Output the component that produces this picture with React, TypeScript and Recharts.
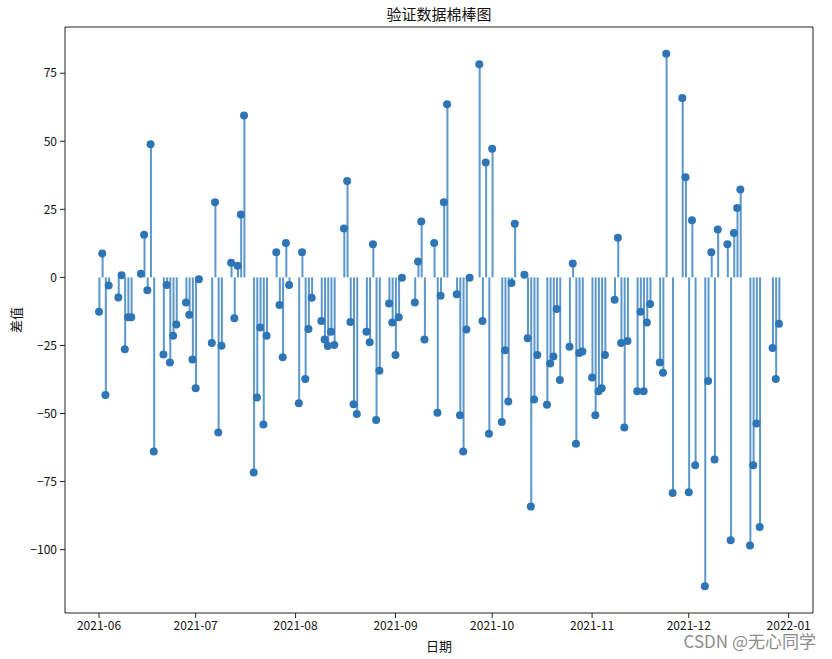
import React from "react"
import { ComposedChart, Bar, Scatter, XAxis, YAxis, ReferenceLine } from "recharts"

// trading days (day of month) and the plotted difference, month by month
const junDays = [1, 2, 3, 4, 7, 8, 9, 10, 11, 14, 15, 16, 17, 18, 21, 22, 23, 24, 25, 28, 29, 30]
const junDiff = [-12.6, 8.8, -43.2, -3.0, -7.4, 0.8, -26.4, -14.6, -14.6, 1.3, 15.7, -4.7, 48.9, -64.0, -28.3, -2.8, -31.3, -21.4, -17.3, -9.2, -13.7, -30.2]

const julDays = [1, 2, 6, 7, 8, 9, 12, 13, 14, 15, 16, 19, 20, 21, 22, 23, 26, 27, 28, 29, 30]
const julDiff = [-40.7, -0.7, -24.1, 27.6, -57.0, -25.1, 5.4, -15.0, 4.3, 23.1, 59.5, -71.7, -44.1, -18.4, -54.0, -21.4, 9.2, -10.1, -29.3, 12.6, -2.8]

const augDays = [2, 3, 4, 5, 6, 9, 10, 11, 12, 13, 16, 17, 18, 19, 20, 23, 24, 25, 26, 27, 30, 31]
const augDiff = [-46.2, 9.2, -37.3, -19.0, -7.5, -16.0, -22.8, -25.2, -20.0, -24.8, 18.0, 35.4, -16.4, -46.6, -50.2, -20.0, -23.8, 12.2, -52.4, -34.3, -9.6, -16.6]

const sepDays = [1, 2, 3, 7, 8, 9, 10, 13, 14, 15, 16, 17, 20, 21, 22, 23, 24, 27, 28, 29, 30]
const sepDiff = [-28.5, -14.6, -0.1, -9.2, 5.8, 20.5, -22.8, 12.6, -49.7, -6.7, 27.6, 63.6, -6.2, -50.6, -64.0, -19.1, -0.1, 78.3, -16.0, 42.2, -57.4]

const octDays = [1, 4, 5, 6, 7, 8, 11, 12, 13, 14, 15, 18, 19, 20, 21, 22, 25, 26, 27, 28, 29]
const octDiff = [47.3, -53.1, -26.8, -45.6, -2.1, 19.7, 1.0, -22.4, -84.2, -44.9, -28.5, -46.8, -31.6, -29.1, -11.6, -37.7, -25.5, 5.1, -61.1, -27.8, -27.2]

const novDays = [1, 2, 3, 4, 5, 8, 9, 10, 11, 12, 15, 16, 17, 18, 19, 22, 23, 24, 26, 29, 30]
const novDiff = [-36.8, -50.6, -41.8, -40.7, -28.5, -8.2, 14.6, -24.1, -55.1, -23.4, -41.8, -12.6, -41.8, -16.6, -9.8, -31.3, -35.0, 82.2, -79.2, 65.9, 36.8]

const decDays = [1, 2, 3, 6, 7, 8, 9, 10, 13, 14, 15, 16, 17, 20, 21, 22, 23, 27, 28, 29]
const decDiff = [-78.9, 21.0, -69.0, -113.5, -38.1, 9.2, -66.9, 17.6, 12.2, -96.6, 16.3, 25.5, 32.3, -98.5, -69.0, -53.7, -91.7, -25.9, -37.3, -17.0]

const months = ["2021-06", "2021-07", "2021-08", "2021-09", "2021-10", "2021-11", "2021-12"]
const monthDays = [junDays, julDays, augDays, sepDays, octDays, novDays, decDays]
const monthDiff = [junDiff, julDiff, augDiff, sepDiff, octDiff, novDiff, decDiff]

const tickLabels = ["2021-06", "2021-07", "2021-08", "2021-09", "2021-10", "2021-11", "2021-12", "2022-01"]
const yTicks = [-100, -75, -50, -25, 0, 25, 50, 75]

const toTime = (ym: string, d: number) => {
  const [y, m] = ym.split("-").map(Number)
  return Date.UTC(y, m - 1, d)
}

const rows = months.flatMap((ym, i) =>
  monthDays[i].map((d, j) => ({ t: toTime(ym, d), v: monthDiff[i][j] }))
)
const xTicks = tickLabels.map((s) => toTime(s, 1))

// matplotlib style 5% margins
const tMin = rows[0].t
const tMax = rows[rows.length - 1].t
const tPad = (tMax - tMin) * 0.05
const vMin = Math.min(...rows.map((r) => r.v))
const vMax = Math.max(...rows.map((r) => r.v))
const vPad = (vMax - vMin) * 0.05
const xDomain = [tMin - tPad, tMax + tPad]
const yDomain = [vMin - vPad, vMax + vPad]

const fmtMonth = (t: number) => {
  const d = new Date(t)
  return `${d.getUTCFullYear()}-${String(d.getUTCMonth() + 1).padStart(2, "0")}`
}
const fmtVal = (v: number) => String(v).replace("-", "\u2212")

const font = '"Noto Sans CJK SC", "Noto Sans", sans-serif'
const stemColor = "#5b97cb"
const dotColor = "#2e75b6"
const spine = "#222"

const Dot = (p: any) => <circle cx={p.cx} cy={p.cy} r={4} fill={dotColor} />

export default function App() {
  return (
    <div style={{ position: "absolute", left: 0, top: 0, width: 832, height: 659, background: "#fff", fontFamily: font }}>
      <ComposedChart width={832} height={659} data={rows} margin={{ top: 27, right: 19, bottom: 16, left: 0 }}>
        <XAxis
          xAxisId="b"
          type="number"
          dataKey="t"
          domain={xDomain}
          ticks={xTicks}
          tickFormatter={fmtMonth}
          allowDataOverflow
          height={30}
          tickSize={5}
          tickMargin={3}
          tick={{ fontSize: 12, fill: "#111", fontFamily: font }}
          tickLine={{ stroke: spine }}
          axisLine={{ stroke: spine }}
        />
        <YAxis
          yAxisId="l"
          type="number"
          domain={yDomain}
          ticks={yTicks}
          tickFormatter={fmtVal}
          allowDataOverflow
          width={65}
          tickSize={5}
          tickMargin={3}
          tick={{ fontSize: 12, fill: "#111", fontFamily: font }}
          tickLine={{ stroke: spine }}
          axisLine={{ stroke: spine }}
        />
        <ReferenceLine xAxisId="b" yAxisId="l" y={yDomain[1]} stroke={spine} ifOverflow="visible" />
        <ReferenceLine xAxisId="b" yAxisId="l" x={xDomain[1]} stroke={spine} ifOverflow="visible" />
        <Bar xAxisId="b" yAxisId="l" dataKey="v" barSize={2} fill={stemColor} isAnimationActive={false} />
        <Scatter xAxisId="b" yAxisId="l" dataKey="v" shape={Dot} isAnimationActive={false} />
      </ComposedChart>
      <div style={{ position: "absolute", left: 65, width: 748, top: 3, textAlign: "center", fontSize: 15, color: "#111" }}>
        验证数据棉棒图
      </div>
      <div style={{ position: "absolute", left: 65, width: 748, top: 636, textAlign: "center", fontSize: 13, color: "#111" }}>
        日期
      </div>
      <div
        style={{
          position: "absolute",
          left: 15,
          top: 320,
          transform: "translate(-50%, -50%) rotate(-90deg)",
          fontSize: 13,
          color: "#111",
          whiteSpace: "nowrap",
        }}
      >
        差值
      </div>
      <div
        style={{
          position: "absolute",
          right: 16,
          top: 633,
          fontSize: 17,
          lineHeight: "16px",
          color: "#8c8c8c",
          whiteSpace: "nowrap",
        }}
      >
        CSDN @无心同学
      </div>
    </div>
  )
}
